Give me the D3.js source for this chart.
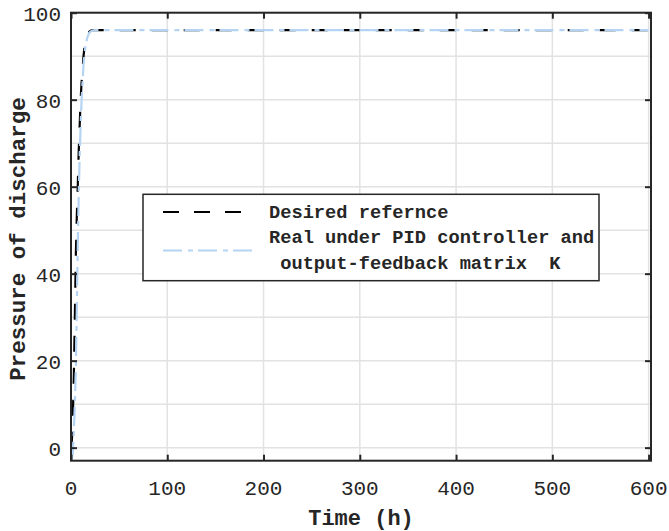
<!DOCTYPE html>
<html>
<head>
<meta charset="utf-8">
<script src="https://cdn.jsdelivr.net/npm/d3@7"></script>
<style>
  html, body { margin: 0; padding: 0; background: #fff; }
  svg { display: block; }
  text { font-family: "Liberation Mono", "DejaVu Sans Mono", monospace; fill: #262626; }
</style>
</head>
<body>
<script>
// Step response: desired reference vs. closed-loop output
const timeRef = [0, 1, 2, 3, 4, 5, 6, 7, 8, 9, 10, 11, 12, 13, 14, 15, 16, 17, 18, 19, 20, 22, 25, 600];
const desiredRef = [0, 2, 8, 17, 30, 44, 53, 60, 68, 74, 80, 84, 87, 90, 92, 93.3, 94.2, 94.9, 95.3, 95.6, 95.8, 96, 96, 96];

const timeReal = [0, 1, 2, 3, 4, 5, 6, 7, 8, 9, 10, 11, 12, 13, 14, 15, 16, 17, 18, 19, 20, 22, 25, 28, 600];
const realPID = [-3, -2.5, -1, 4, 10, 18, 32, 46, 58, 67, 74, 80, 84, 88, 90.5, 92.2, 93.4, 94.3, 94.9, 95.3, 95.6, 95.9, 96, 96, 96];

const xTicks = [0, 100, 200, 300, 400, 500, 600];
const yTicks = [0, 20, 40, 60, 80, 100];
const yGrid = [0, 10, 20, 30, 40, 50, 60, 70, 80, 90, 100];

const legendLabels = ["Desired refernce", "Real under PID controller and", " output-feedback matrix  K"];

const W = 669, H = 531;
const plotL = 71, plotR = 651, plotT = 12.7, plotB = 460.7;

const svg = d3.select("body").append("svg").attr("width", W).attr("height", H);

const x = d3.scaleLinear().domain([0, 602.5]).range([plotL, plotR]);
const y = d3.scaleLinear().domain([-3, 100]).range([plotB, plotT]);

// grid
const grid = svg.append("g").attr("stroke", "#e2e2e2").attr("stroke-width", 1.5);
grid.selectAll("line.gx").data(xTicks.filter(d => d > 0)).join("line")
  .attr("x1", d => x(d)).attr("x2", d => x(d)).attr("y1", plotT).attr("y2", plotB);
grid.selectAll("line.gy").data(yGrid).join("line")
  .attr("y1", d => y(d)).attr("y2", d => y(d)).attr("x1", plotL).attr("x2", plotR);

// data lines
svg.append("clipPath").attr("id", "plotclip").append("rect")
  .attr("x", plotL).attr("y", plotT).attr("width", plotR - plotL).attr("height", plotB - plotT);

const line = d3.line().x(d => x(d[0])).y(d => y(d[1]));
const plot = svg.append("g").attr("clip-path", "url(#plotclip)");

plot.append("path")
  .datum(d3.zip(timeRef, desiredRef))
  .attr("d", line)
  .attr("fill", "none").attr("stroke", "#000").attr("stroke-width", 2.2)
  .attr("stroke-dasharray", "16,16");

plot.append("path")
  .datum(d3.zip(timeReal, realPID))
  .attr("d", line)
  .attr("fill", "none").attr("stroke", "#b5d3f3").attr("stroke-width", 2.2)
  .attr("stroke-dasharray", "19,6,5,5");

// axes box with inward ticks on all sides
const axisColor = "#262626";
const tickLen = 6;
const axesG = svg.append("g");

const xAxisB = d3.axisBottom(x).tickValues(xTicks).tickSize(-tickLen).tickFormat("");
const xAxisT = d3.axisTop(x).tickValues(xTicks).tickSize(-tickLen).tickFormat("");
const yAxisL = d3.axisLeft(y).tickValues(yTicks).tickSize(-tickLen).tickFormat("");
const yAxisR = d3.axisRight(y).tickValues(yTicks).tickSize(-tickLen).tickFormat("");

[[xAxisB, `translate(0,${plotB})`], [xAxisT, `translate(0,${plotT})`],
 [yAxisL, `translate(${plotL},0)`], [yAxisR, `translate(${plotR},0)`]].forEach(([ax, tr]) => {
  const g = axesG.append("g").attr("transform", tr).call(ax);
  g.select(".domain").remove();
  g.selectAll(".tick line").attr("stroke", axisColor).attr("stroke-width", 2);
});

axesG.append("rect")
  .attr("x", plotL).attr("y", plotT).attr("width", plotR - plotL).attr("height", plotB - plotT)
  .attr("fill", "none").attr("stroke", axisColor).attr("stroke-width", 2);

// tick labels
svg.append("g").selectAll("text").data(xTicks).join("text")
  .attr("x", d => x(d)).attr("y", 495)
  .attr("text-anchor", "middle").attr("font-size", 21)
  .text(d => d);

svg.append("g").selectAll("text").data(yTicks).join("text")
  .attr("x", 61).attr("y", d => y(d) + 8)
  .attr("text-anchor", "end").attr("font-size", 21)
  .text(d => d);

// axis labels
svg.append("text")
  .attr("x", (plotL + plotR) / 2).attr("y", 525)
  .attr("text-anchor", "middle").attr("font-size", 22).attr("font-weight", "bold")
  .text("Time (h)");

svg.append("text")
  .attr("transform", `translate(25,239) rotate(-90)`)
  .attr("text-anchor", "middle").attr("font-size", 22.5).attr("font-weight", "bold")
  .text("Pressure of discharge");

// legend
const lg = svg.append("g");
lg.append("rect")
  .attr("x", 143).attr("y", 194.3).attr("width", 456).attr("height", 86.4)
  .attr("fill", "#fff").attr("stroke", axisColor).attr("stroke-width", 1.5);

lg.append("line")
  .attr("x1", 163).attr("x2", 250).attr("y1", 212).attr("y2", 212)
  .attr("stroke", "#000").attr("stroke-width", 2.2).attr("stroke-dasharray", "16,15");
lg.append("line")
  .attr("x1", 163).attr("x2", 257).attr("y1", 250.5).attr("y2", 250.5)
  .attr("stroke", "#b5d3f3").attr("stroke-width", 2.2).attr("stroke-dasharray", "19,6,5,5");

const legendY = [217.5, 243, 268.5];
lg.selectAll("text.lab").data(legendLabels).join("text")
  .attr("x", 269).attr("y", (d, i) => legendY[i])
  .attr("font-size", 18.7).attr("font-weight", "bold")
  .attr("xml:space", "preserve").style("white-space", "pre")
  .text(d => d);
</script>
</body>
</html>
